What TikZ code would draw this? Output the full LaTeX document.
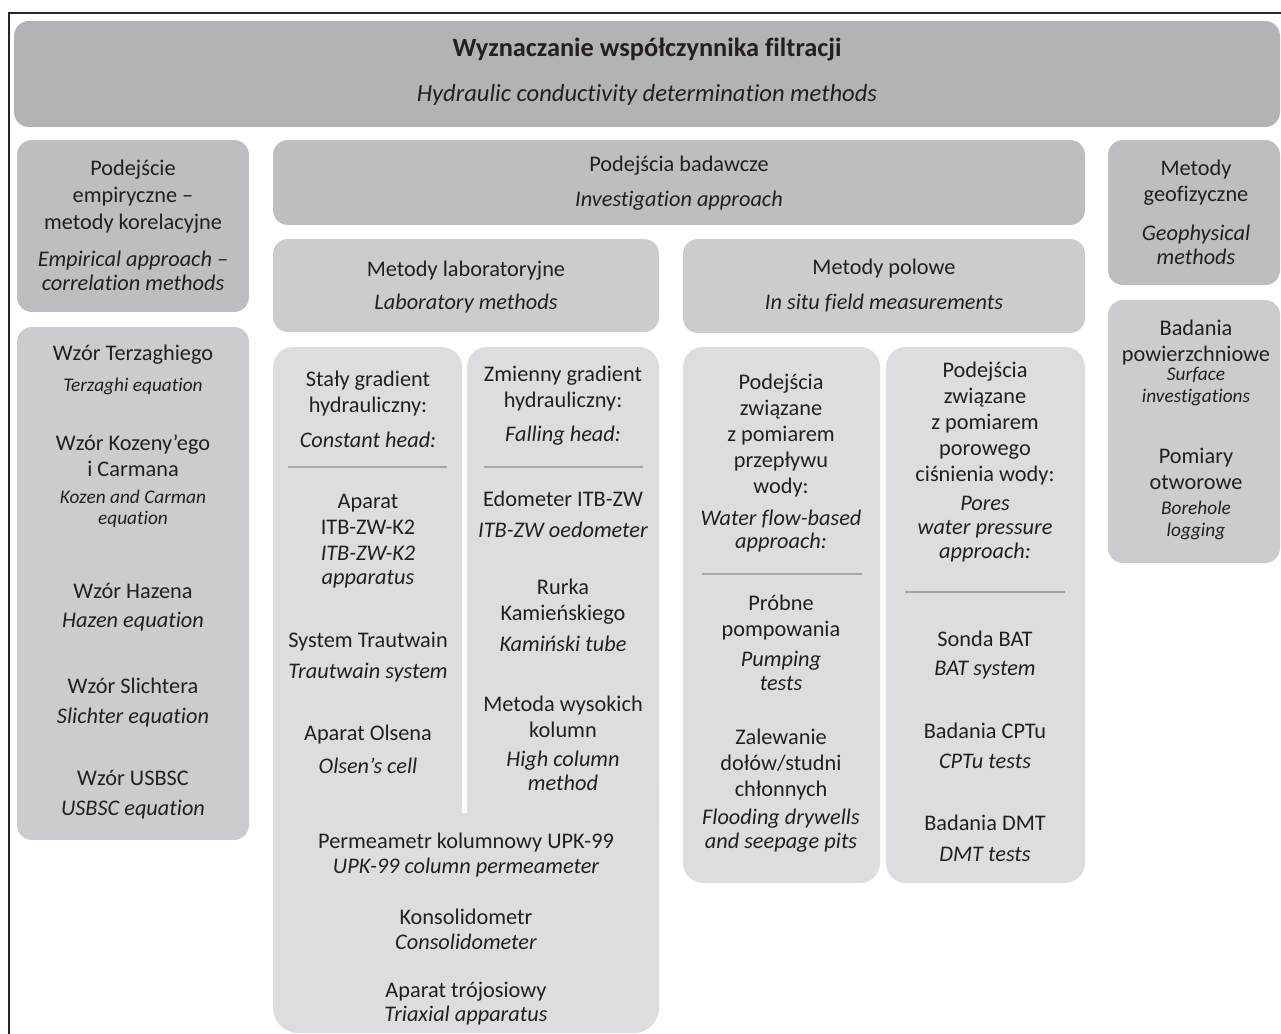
\documentclass[tikz,border=0pt]{standalone}
\usepackage{fontspec}
\setmainfont{Carlito}[Ligatures=NoCommon]
\definecolor{gTop}{HTML}{B2B3B6}
\definecolor{gHead}{HTML}{BDBEC1}
\definecolor{gSub}{HTML}{CBCCCF}
\definecolor{gCol}{HTML}{DCDDE0}
\definecolor{gTxt}{HTML}{231F20}
\definecolor{gLine}{HTML}{A5A6A9}
\tikzset{
  pl/.style={align=center, inner sep=0pt, text=gTxt, font=\fontsize{12.7}{14.8}\selectfont},
  en/.style={pl, font=\fontsize{12.7}{13.6}\selectfont\itshape},
  ens/.style={pl, font=\fontsize{11}{12.2}\selectfont\itshape},
  hd/.style={rounded corners=0.3cm},
  colbox/.style={fill=gCol, rounded corners=0.4cm},
  sep/.style={draw=gLine, line width=0.6pt},
}

\begin{document}
\begin{tikzpicture}[x=0.02cm, y=-0.02cm]
\useasboundingbox (0,0) rectangle (1281,1034);
% frame
\draw[gray!30!black, line width=0.8pt] (1281,13) -- (9,13) -- (9,1034);
% title
\fill[gTop, hd] (14,21) rectangle (1280,127);
\node[pl, font=\fontsize{15}{18}\selectfont\bfseries] (tyt) at (647,49) {Wyznaczanie współczynnika filtracji};
\node[en, font=\fontsize{14}{17}\selectfont\itshape] (tytEn) at (647,95) {Hydraulic conductivity determination methods};

% empirical column
\fill[gHead, hd] (17,140) rectangle (249,312);
\node[pl, font=\fontsize{12.7}{15.3}\selectfont] (empPl) at (133,197) {Podejście\\empiryczne –\\metody korelacyjne};
\node[en] (empEn) at (133,271) {Empirical approach –\\correlation methods};
\fill[gSub, hd] (17,327) rectangle (249,840);
\node[pl] (terPl) at (133,355) {Wzór Terzaghiego};
\node[ens] (terEn) at (133,386) {Terzaghi equation};
\node[pl] (kozPl) at (133,456) {Wzór Kozeny’ego\\i Carmana};
\node[ens] (kozEn) at (133,509) {Kozen and Carman\\equation};
\node[pl] (hazPl) at (133,591) {Wzór Hazena};
\node[en] (hazEn) at (133,622) {Hazen equation};
\node[pl] (sliPl) at (133,686) {Wzór Slichtera};
\node[en] (sliEn) at (133,718) {Slichter equation};
\node[pl] (usbPl) at (133,778) {Wzór USBSC};
\node[en] (usbEn) at (133,810) {USBSC equation};

% investigation approach
\fill[gHead, hd] (273,140) rectangle (1085,225);
\node[pl] (badPl) at (679,166) {Podejścia badawcze};
\node[en] (badEn) at (679,201) {Investigation approach};
\fill[gSub, hd] (273,239) rectangle (659,332);
\node[pl] (labPl) at (466,271) {Metody laboratoryjne};
\node[en] (labEn) at (466,304) {Laboratory methods};
\fill[gSub, hd] (683,239) rectangle (1085,333);
\node[pl] (polPl) at (884,269) {Metody polowe};
\node[en] (polEn) at (884,303) {In situ field measurements};

% laboratory
\fill[colbox] (273,347) rectangle (462,840);
\fill[colbox] (467,347) rectangle (659,840);
\fill[colbox, rounded corners=0.5cm] (273,760) rectangle (659,1033);
\fill[white] (462,347) rectangle (467,813);
\node[pl] (stPl) at (368,393.5) {Stały gradient\\hydrauliczny:};
\node[en] (stEn) at (368,440) {Constant head:};
\draw[sep] (288,467) -- (447,467);
\node[pl] (itbPl) at (368,514.5) {Aparat\\ITB-ZW-K2};
\node[en] (itbEn) at (368,567.5) {ITB-ZW-K2\\apparatus};
\node[pl] (trPl) at (368,642) {System Trautwain};
\node[en] (trEn) at (368,673) {Trautwain system};
\node[pl] (olPl) at (368,735) {Aparat Olsena};
\node[en] (olEn) at (368,766) {Olsen’s cell};
\node[pl] (zmPl) at (563,389) {Zmienny gradient\\hydrauliczny:};
\node[en] (zmEn) at (563,436) {Falling head:};
\draw[sep] (484,467) -- (643,467);
\node[pl] (edPl) at (563,499) {Edometer ITB-ZW};
\node[en] (edEn) at (563,530) {ITB-ZW oedometer};
\node[pl] (rkPl) at (563,601.5) {Rurka\\Kamieńskiego};
\node[en] (rkEn) at (563,644) {Kamiński tube};
\node[pl] (wkPl) at (563,716.5) {Metoda wysokich\\kolumn};
\node[en] (wkEn) at (563,770.5) {High column\\method};
\node[pl] (upkPl) at (466,843) {Permeametr kolumnowy UPK-99};
\node[en] (upkEn) at (466,868) {UPK-99 column permeameter};
\node[pl] (konPl) at (466,917) {Konsolidometr};
\node[en] (konEn) at (466,942) {Consolidometer};
\node[pl] (trjPl) at (466,992) {Aparat trójosiowy};
\node[en] (trjEn) at (466,1016) {Triaxial apparatus};

% field
\fill[colbox] (683,347) rectangle (880,883);
\fill[colbox] (886,347) rectangle (1085,883);
\node[pl] (prPl) at (781,436) {Podejścia\\związane\\z pomiarem\\przepływu\\wody:};
\node[en] (prEn) at (781,531) {Water flow-based\\approach:};
\draw[sep] (702,574) -- (862,574);
\node[pl] (pbPl) at (781,617.5) {Próbne\\pompowania};
\node[en] (pbEn) at (781,671) {Pumping\\tests};
\node[pl] (zaPl) at (781,765) {Zalewanie\\dołów/studni\\chłonnych};
\node[en] (zaEn) at (781,830.5) {Flooding drywells\\and seepage pits};
\node[pl] (poPl) at (985,423.5) {Podejścia\\związane\\z pomiarem\\porowego\\ciśnienia wody:};
\node[en] (poEn) at (985,529.5) {Pores\\water pressure\\approach:};
\draw[sep] (905,592) -- (1065,592);
\node[pl] (batPl) at (985,639) {Sonda BAT};
\node[en] (batEn) at (985,670) {BAT system};
\node[pl] (cptPl) at (985,731) {Badania CPTu};
\node[en] (cptEn) at (985,761) {CPTu tests};
\node[pl] (dmtPl) at (985,823) {Badania DMT};
\node[en] (dmtEn) at (985,854) {DMT tests};

% geophysics
\fill[gHead, hd] (1108,140) rectangle (1280,285);
\node[pl] (geoPl) at (1196,183) {Metody\\geofizyczne};
\node[en] (geoEn) at (1196,245) {Geophysical\\methods};
\fill[gSub, hd] (1108,300) rectangle (1280,563);
\node[pl] (powPl) at (1196,342.5) {Badania\\powierzchniowe};
\node[ens] (powEn) at (1196,386.5) {Surface\\investigations};
\node[pl] (otwPl) at (1196,468.5) {Pomiary\\otworowe};
\node[ens] (otwEn) at (1196,520.5) {Borehole\\logging};
\end{tikzpicture}
\end{document}
